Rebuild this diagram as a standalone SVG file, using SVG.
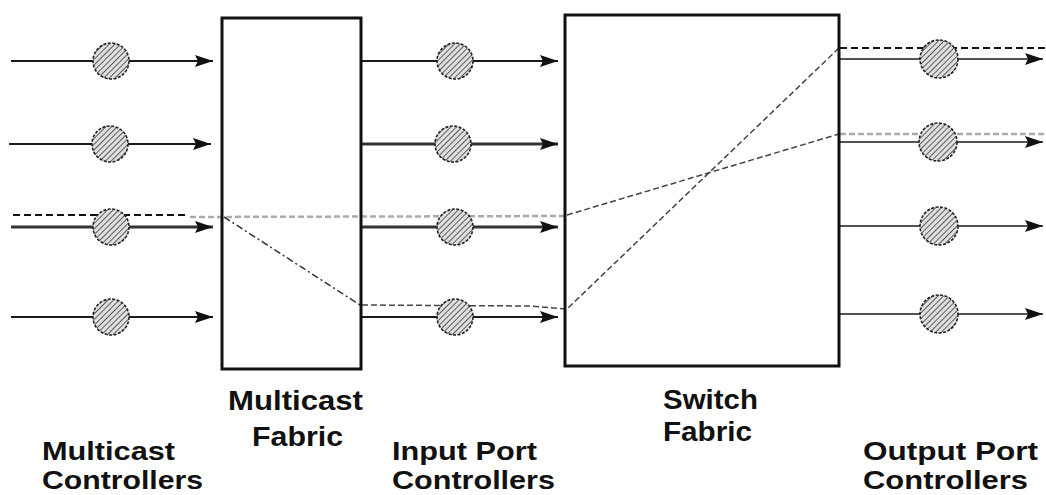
<svg xmlns="http://www.w3.org/2000/svg" width="1046" height="495" viewBox="0 0 1046 495">
<style>
.box{fill:none;stroke:#111;stroke-width:3}
.wire{stroke:#1a1a1a;stroke-width:2;fill:none}
.thick{stroke-width:3;stroke:#333}
.thin{stroke-width:1.6}
.ctl{fill:url(#hatch);stroke:#222;stroke-width:1.6;stroke-dasharray:3 1.5}
.dk{stroke:#111;stroke-width:2;stroke-dasharray:7 4;fill:none}
.lt{stroke:#aaa;stroke-width:2.5;stroke-dasharray:6 3;fill:none}
.dd{stroke:#333;stroke-width:1.5;stroke-dasharray:7 3 2 3;fill:none}
.ds{stroke:#444;stroke-width:1.5;stroke-dasharray:6 3;fill:none}
.lbl{font-family:"Liberation Sans",Arial,sans-serif;font-weight:bold;font-size:28px;fill:#111}
.sm{font-size:26px}
</style>
<defs>
<pattern id="hatch" patternUnits="userSpaceOnUse" width="4" height="4" patternTransform="rotate(45)">
<rect width="4" height="4" fill="#e0e0e0"/>
<line x1="0" y1="0" x2="0" y2="4" stroke="#444" stroke-width="1.7"/>
</pattern>
<marker id="arr" markerUnits="userSpaceOnUse" markerWidth="20" markerHeight="14" refX="18" refY="6" orient="auto">
<path d="M0,0 L18,6 L0,12 L3,6 z" fill="#111"/>
</marker>
</defs>
<rect width="1046" height="495" fill="#fff"/>

<g id="connectors">
<line class="wire" x1="11" y1="61" x2="213" y2="61" marker-end="url(#arr)"/>
<line class="wire" x1="9" y1="144" x2="211" y2="144" marker-end="url(#arr)"/>
<line class="wire thick" x1="11" y1="227" x2="213" y2="227" marker-end="url(#arr)"/>
<line class="wire" x1="11" y1="317" x2="213" y2="317" marker-end="url(#arr)"/>
<line class="wire" x1="362" y1="61" x2="558" y2="61" marker-end="url(#arr)"/>
<line class="wire thick" x1="362" y1="144" x2="558" y2="144" marker-end="url(#arr)"/>
<line class="wire thick" x1="362" y1="227" x2="558" y2="227" marker-end="url(#arr)"/>
<line class="wire" x1="362" y1="317" x2="558" y2="317" marker-end="url(#arr)"/>
<line class="wire thin" x1="840" y1="59" x2="1043" y2="59" marker-end="url(#arr)"/>
<line class="wire thin" x1="840" y1="142" x2="1043" y2="142" marker-end="url(#arr)"/>
<line class="wire thin" x1="840" y1="226" x2="1043" y2="226" marker-end="url(#arr)"/>
<line class="wire thin" x1="840" y1="314" x2="1043" y2="314" marker-end="url(#arr)"/>
<line class="dk" x1="13" y1="215" x2="188" y2="215"/>
<line class="lt" x1="190" y1="217" x2="566" y2="216"/>
<line class="dd" x1="224" y1="217" x2="360" y2="305"/>
<polyline class="ds" points="362,305 530,306 567,309 839,48"/>
<line class="ds" x1="567" y1="215" x2="839" y2="134"/>
<line class="dk" x1="840" y1="48" x2="1046" y2="48"/>
<line class="lt" x1="840" y1="134" x2="1046" y2="134"/>
</g>

<g id="multicast-fabric"><rect class="box" x="222" y="18" width="139" height="351"/></g>
<g id="switch-fabric"><rect class="box" x="565" y="15" width="274" height="351"/></g>

<g id="multicast-controllers">
<circle class="ctl" cx="111" cy="61" r="18"/>
<circle class="ctl" cx="110" cy="144" r="18"/>
<circle class="ctl" cx="111" cy="227" r="18"/>
<circle class="ctl" cx="111" cy="317" r="18"/>
</g>
<g id="input-port-controllers">
<circle class="ctl" cx="455" cy="61" r="18"/>
<circle class="ctl" cx="453" cy="144" r="18"/>
<circle class="ctl" cx="455" cy="227" r="18"/>
<circle class="ctl" cx="455" cy="317" r="18"/>
</g>
<g id="output-port-controllers">
<circle class="ctl" cx="939" cy="59" r="19"/>
<circle class="ctl" cx="938" cy="142" r="19"/>
<circle class="ctl" cx="939" cy="226" r="19"/>
<circle class="ctl" cx="939" cy="314" r="19"/>
</g>

<g id="labels">
<text class="lbl" x="228" y="410" textLength="135" lengthAdjust="spacingAndGlyphs">Multicast</text>
<text class="lbl" x="252" y="446" textLength="91" lengthAdjust="spacingAndGlyphs">Fabric</text>
<text class="lbl" x="663" y="409" textLength="95" lengthAdjust="spacingAndGlyphs">Switch</text>
<text class="lbl" x="663" y="441" textLength="89" lengthAdjust="spacingAndGlyphs">Fabric</text>
<text class="lbl sm" x="42" y="460" textLength="133" lengthAdjust="spacingAndGlyphs">Multicast</text>
<text class="lbl sm" x="42" y="489" textLength="161" lengthAdjust="spacingAndGlyphs">Controllers</text>
<text class="lbl sm" x="392" y="460" textLength="145" lengthAdjust="spacingAndGlyphs">Input Port</text>
<text class="lbl sm" x="392" y="489" textLength="163" lengthAdjust="spacingAndGlyphs">Controllers</text>
<text class="lbl sm" x="863" y="460" textLength="175" lengthAdjust="spacingAndGlyphs">Output Port</text>
<text class="lbl sm" x="863" y="489" textLength="165" lengthAdjust="spacingAndGlyphs">Controllers</text>
</g>
</svg>
